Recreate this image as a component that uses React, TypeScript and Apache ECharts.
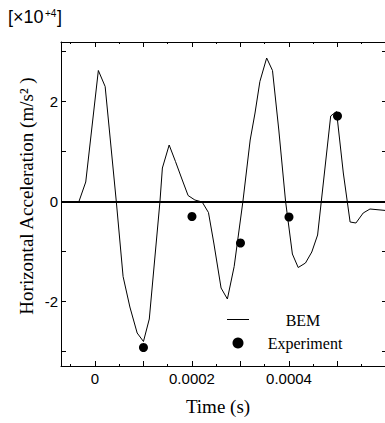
import React, { useEffect, useRef } from "react";
import * as echarts from "echarts";

// BEM simulation (time in s, acceleration in 10^4 m/s^2)
const bemTime = [
  -0.00007, -0.000033, -0.000019, 0.000007, 0.000021, 0.000044, 0.000058, 0.000072,
  0.000087, 0.0001, 0.000112, 0.000134, 0.000139, 0.000153, 0.000166, 0.00018,
  0.000192, 0.000206, 0.000221, 0.000234, 0.000245, 0.00026, 0.000273, 0.000287,
  0.000305, 0.00032, 0.00033, 0.00034, 0.000354, 0.000366, 0.000379, 0.000393,
  0.000407, 0.000419, 0.000434, 0.000447, 0.000459, 0.000486, 0.000498, 0.000512,
  0.000526, 0.000538, 0.000553, 0.000567, 0.0006,
];
const bemAccel = [
  0, 0, 0.39, 2.62, 2.3, 0, -1.5, -2.11,
  -2.63, -2.8, -2.35, 0, 0.67, 1.13, 0.8, 0.43,
  0.12, 0.03, -0.01, -0.22, -0.83, -1.73, -1.95, -1.3,
  0, 1.23, 1.77, 2.4, 2.87, 2.62, 1.43, 0,
  -1.05, -1.32, -1.23, -1.01, -0.67, 1.71, 1.8, 0.57,
  -0.41, -0.43, -0.23, -0.15, -0.18,
];

// Experiment
const expTime = [0.0001, 0.0002, 0.0003, 0.0004, 0.0005];
const expAccel = [-2.92, -0.3, -0.83, -0.31, 1.71];

// Axis ticks / labels
const xTickLabels = [0, 0.0002, 0.0004];
const xMajorTicks = [0, 0.0001, 0.0002, 0.0003, 0.0004, 0.0005];
const xMinorTicks = [-0.00005, 0.00005, 0.00015, 0.00025, 0.00035, 0.00045, 0.00055];
const yTickLabels = [-2, 0, 2];
const yTicks = [-3, -2, -1, 0, 1, 2, 3];

const X_MIN = -0.00007;
const X_MAX = 0.0006;
const Y_MIN = -3.29;
const Y_MAX = 3.19;

const SANS = "Liberation Sans, Arial, sans-serif";
const SERIF = "Liberation Serif, Times New Roman, serif";

function xAx(position: string, ticks: number[], len: number, labels: boolean, line: boolean) {
  return {
    type: "value",
    position,
    min: X_MIN,
    max: X_MAX,
    axisLine: { show: line, onZero: false, lineStyle: { color: "#000", width: 1 } },
    axisTick: { show: true, inside: true, length: len, customValues: ticks, lineStyle: { color: "#000", width: 1 } },
    axisLabel: labels
      ? { show: true, customValues: xTickLabels, color: "#000", fontSize: 15, fontFamily: SANS, margin: 5 }
      : { show: false },
    splitLine: { show: false },
  };
}

function yAx(position: string, len: number, labels: boolean) {
  return {
    type: "value",
    position,
    min: Y_MIN,
    max: Y_MAX,
    axisLine: { show: true, onZero: false, lineStyle: { color: "#000", width: 1 } },
    axisTick: { show: true, inside: true, length: len, customValues: yTicks, lineStyle: { color: "#000", width: 1 } },
    axisLabel: labels
      ? { show: true, customValues: yTickLabels, color: "#000", fontSize: 15, fontFamily: SANS, margin: 3 }
      : { show: false },
    splitLine: { show: false },
  };
}

export default function App() {
  const ref = useRef<HTMLDivElement>(null);
  useEffect(() => {
    if (!ref.current) return;
    const chart = echarts.init(ref.current, null, { renderer: "svg" });
    chart.setOption({
      animation: false,
      backgroundColor: "#fff",
      grid: { left: 61, top: 42, right: 4, bottom: 57, containLabel: false },
      xAxis: [
        xAx("bottom", xMajorTicks, 5, true, true),
        xAx("bottom", xMinorTicks, 2, false, false),
        xAx("top", xMajorTicks, 5, false, true),
        xAx("top", xMinorTicks, 2, false, false),
      ],
      yAxis: [yAx("left", 5, true), yAx("right", 4, false)],
      series: [
        {
          name: "BEM",
          type: "line",
          xAxisIndex: 0,
          yAxisIndex: 0,
          data: bemTime.map((t, i) => [t, bemAccel[i]]),
          showSymbol: false,
          symbol: "none",
          lineStyle: { color: "#000", width: 1 },
          markLine: {
            silent: true,
            symbol: "none",
            label: { show: false },
            lineStyle: { color: "#000", width: 2, type: "solid" },
            data: [{ yAxis: 0 }],
          },
          z: 3,
        },
        {
          name: "Experiment",
          type: "scatter",
          xAxisIndex: 0,
          yAxisIndex: 0,
          data: expTime.map((t, i) => [t, expAccel[i]]),
          symbol: "circle",
          symbolSize: 9,
          itemStyle: { color: "#000", opacity: 1 },
          z: 4,
        },
      ],
      graphic: [
        { type: "text", x: 8, y: 26, style: { text: "[×10", font: `18px ${SANS}`, fill: "#000", textVerticalAlign: "bottom" } },
        { type: "text", x: 45, y: 18, style: { text: "+4", font: `10px ${SANS}`, fill: "#000", textVerticalAlign: "bottom" } },
        { type: "text", x: 57, y: 26, style: { text: "]", font: `18px ${SANS}`, fill: "#000", textVerticalAlign: "bottom" } },
        {
          type: "text",
          x: 26,
          y: 196,
          rotation: Math.PI / 2,
          style: {
            text: "Horizontal Acceleration (m/s² )",
            font: `19px ${SERIF}`,
            fill: "#000",
            textAlign: "center",
            textVerticalAlign: "middle",
          },
        },
        {
          type: "text",
          x: 218,
          y: 406,
          style: { text: "Time (s)", font: `19px ${SERIF}`, fill: "#000", textAlign: "center", textVerticalAlign: "middle" },
        },
        { type: "line", shape: { x1: 227, y1: 319.5, x2: 249, y2: 319.5 }, style: { stroke: "#000", lineWidth: 1 } },
        { type: "text", x: 303, y: 320, style: { text: "BEM", font: `16px ${SERIF}`, fill: "#000", textAlign: "center", textVerticalAlign: "middle" } },
        { type: "circle", shape: { cx: 238, cy: 343, r: 5.5 }, style: { fill: "#000" } },
        { type: "text", x: 305, y: 343, style: { text: "Experiment", font: `16px ${SERIF}`, fill: "#000", textAlign: "center", textVerticalAlign: "middle" } },
      ],
    });
    return () => chart.dispose();
  }, []);
  return (
    <div
      ref={ref}
      style={{ position: "fixed", left: 0, top: 0, width: 390, height: 423, background: "#fff" }}
    />
  );
}
